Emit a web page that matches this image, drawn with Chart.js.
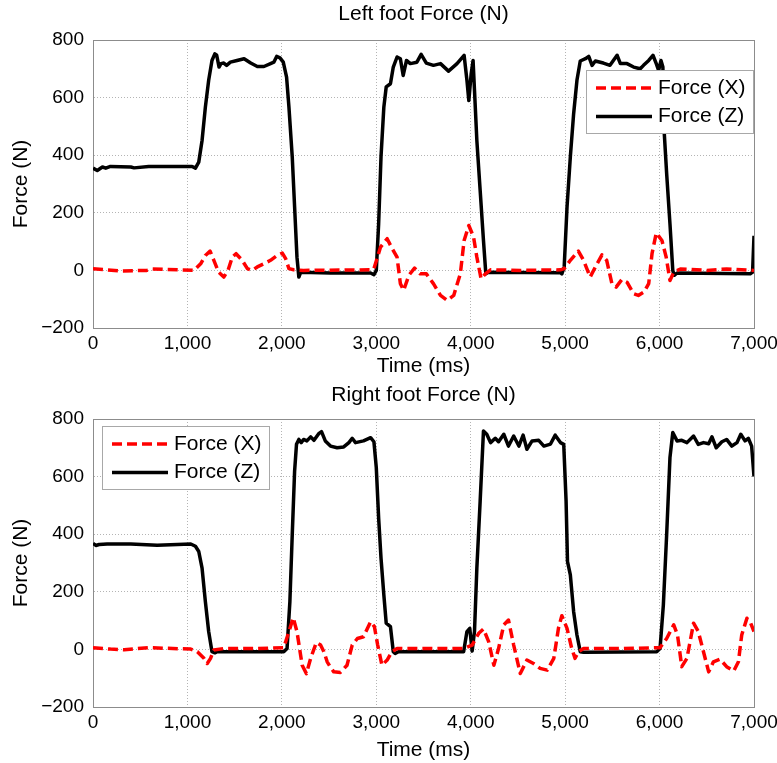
<!DOCTYPE html>
<html>
<head>
<meta charset="utf-8">
<script src="https://cdn.jsdelivr.net/npm/chart.js@4.4.1/dist/chart.umd.min.js"></script>
<style>
  html, body { margin: 0; padding: 0; background: #fff; }
  canvas { display: block; }
</style>
</head>
<body>
<canvas id="leftChart" width="777" height="380"></canvas>
<canvas id="rightChart" width="777" height="383"></canvas>
<script>
// axis ranges
const timeMin = 0, timeMax = 7000, timeStep = 1000;
const forceMin = -200, forceMax = 800, forceStep = 200;

// left foot, X force
const leftXTime = [0, 150, 290, 570, 630, 1070, 1140, 1190, 1240, 1280, 1330, 1385, 1430, 1475, 1515, 1580, 1635, 1685, 1740, 1810,
  1880, 1950, 2005, 2040, 2075, 2125, 2230, 2940, 2975, 3045, 3115, 3160, 3220, 3255, 3290, 3345, 3405, 3465, 3530, 3605,
  3680, 3750, 3820, 3890, 3930, 3980, 4030, 4065, 4110, 4155, 4210, 4530, 4950, 4990, 5055, 5140, 5195, 5265, 5320, 5390,
  5440, 5495, 5540, 5600, 5655, 5725, 5775, 5835, 5885, 5920, 5965, 6025, 6070, 6110, 6150, 6220, 6500, 6710, 7000];
const leftXForce = [6, 2, -2, 0, 5, 0, 23, 52, 67, 35, -6, -23, 0, 46, 58, 35, 6, 0, 12, 23,
  35, 52, 60, 41, 6, 2, 0, 2, 6, 81, 110, 81, 46, -46, -69, -17, 8, -12, -12, -46,
  -87, -104, -87, -12, 104, 156, 116, 46, -29, -12, 2, 0, 2, 6, 35, 67, 35, -23, 12, 54,
  35, -46, -58, -32, -41, -81, -87, -75, -46, 58, 130, 104, 46, -35, -6, 5, 0, 5, 0];

// left foot, Z force
const leftZTime = [0, 45, 100, 135, 185, 400, 435, 590, 1050, 1085, 1120, 1155, 1190, 1225, 1260, 1290, 1310, 1335, 1355, 1385,
  1415, 1455, 1525, 1600, 1670, 1740, 1810, 1880, 1915, 1945, 1980, 2015, 2050, 2075, 2110, 2135, 2160, 2180, 2200, 2515,
  2940, 2975, 3000, 3025, 3050, 3080, 3105, 3150, 3180, 3220, 3255, 3285, 3320, 3360, 3430, 3475, 3530, 3605, 3680, 3765,
  3855, 3930, 3960, 3980, 4005, 4025, 4040, 4065, 4100, 4135, 4160, 4190, 4950, 4965, 4990, 5020, 5055, 5090, 5125, 5160,
  5215, 5250, 5285, 5320, 5405, 5475, 5550, 5585, 5655, 5725, 5795, 5830, 5885, 5930, 5965, 5990, 6015, 6035, 6050, 6075,
  6110, 6140, 6155, 6185, 6960, 6985, 7000];
const leftZForce = [355, 347, 359, 355, 361, 359, 356, 361, 361, 355, 376, 451, 567, 660, 729, 752, 747, 706, 718, 720,
  712, 723, 729, 735, 720, 708, 708, 718, 723, 743, 738, 723, 671, 567, 394, 220, 46, -23, -6, -9,
  -9, -15, 0, 162, 394, 567, 637, 648, 706, 741, 735, 677, 729, 718, 723, 750, 720, 712, 718, 692,
  718, 747, 660, 590, 683, 729, 625, 451, 278, 104, -12, -6, -8, -12, 12, 220, 394, 544, 660, 727,
  735, 743, 712, 727, 720, 712, 747, 718, 718, 706, 700, 712, 729, 747, 718, 694, 729, 706, 475, 336,
  162, 0, -17, -9, -12, -6, 120];

// right foot, X force
const rightXTime = [0, 185, 330, 590, 1035, 1105, 1175, 1210, 1245, 1280, 1385, 1740, 2020, 2075, 2120, 2160, 2215, 2260, 2305, 2365,
  2410, 2445, 2480, 2515, 2550, 2620, 2690, 2745, 2800, 2865, 2940, 2980, 3015, 3060, 3115, 3165, 3220, 3570, 3925, 4015,
  4085, 4135, 4190, 4245, 4295, 4350, 4400, 4455, 4525, 4595, 4665, 4735, 4810, 4880, 4930, 4965, 5020, 5070, 5105, 5140,
  5195, 5620, 6005, 6075, 6150, 6190, 6235, 6290, 6360, 6410, 6465, 6520, 6570, 6640, 6710, 6785, 6835, 6870, 6925, 6965, 7000];
const rightXForce = [6, 1, -1, 6, 1, -8, -31, -49, -31, -2, 3, 3, 6, 62, 110, 62, -55, -84, -31, 24,
  15, -8, -43, -62, -78, -80, -55, 15, 38, 44, 96, 79, 15, -55, -37, -8, 3, 3, 3, 15,
  56, 71, 27, -55, 3, 85, 102, 15, -84, -37, -49, -66, -72, -31, 75, 117, 73, 3, -31, -8,
  3, 3, 6, 38, 85, 50, -60, -31, 91, 62, -8, -78, -43, -34, -60, -75, -43, 50, 108, 91, 62];

// right foot, Z force
const rightZTime = [0, 30, 65, 150, 400, 680, 1035, 1085, 1120, 1155, 1190, 1225, 1260, 1290, 1315, 2020, 2055, 2085, 2110, 2135,
  2155, 2180, 2205, 2230, 2265, 2305, 2340, 2390, 2420, 2460, 2515, 2585, 2655, 2710, 2745, 2780, 2865, 2940, 2975, 3000,
  3025, 3050, 3080, 3105, 3150, 3180, 3200, 3235, 3925, 3960, 3990, 4015, 4040, 4065, 4100, 4135, 4170, 4210, 4260, 4295,
  4350, 4400, 4455, 4510, 4555, 4595, 4650, 4720, 4775, 4845, 4895, 4950, 4985, 5010, 5025, 5055, 5090, 5125, 5160, 5195,
  5970, 6005, 6040, 6075, 6110, 6140, 6185, 6235, 6290, 6360, 6410, 6465, 6520, 6555, 6600, 6660, 6710, 6765, 6820, 6860,
  6905, 6940, 6975, 7000];
const rightZForce = [368, 361, 364, 366, 366, 362, 366, 358, 340, 282, 166, 62, -8, -12, -8, -8, 3, 166, 398, 619,
  712, 729, 718, 729, 724, 738, 726, 749, 756, 724, 706, 700, 703, 718, 733, 718, 724, 735, 721, 631,
  456, 317, 189, 91, 79, -8, -14, -8, -8, 62, 73, -6, 62, 282, 515, 758, 747, 718, 733, 721,
  747, 706, 741, 706, 744, 695, 724, 726, 706, 713, 744, 718, 712, 515, 305, 259, 131, 50, -8, -10,
  -8, 3, 154, 398, 666, 753, 724, 726, 718, 741, 712, 718, 714, 738, 700, 721, 729, 706, 718, 747,
  724, 733, 706, 600];

const FAMILY = "'Liberation Sans', Arial, sans-serif";
const tickFont = { family: FAMILY, size: 19 };
const labelFont = { family: FAMILY, size: 21 };
const frameColor = '#8c8c8c';
const gridColor = '#b4b4b4';

function toPoints(t, f) {
  return t.map((x, i) => ({ x, y: f[i] }));
}

// thousands separator and a proper minus sign
function fmtTick(v) {
  return v.toLocaleString('en-US').replace('-', '\u2212');
}

// boxed legend sitting inside the plot area
const boxLegend = {
  id: 'boxLegend',
  afterDraw(chart, args, opts) {
    const { ctx, chartArea } = chart;
    const sets = chart.data.datasets;
    ctx.save();
    ctx.font = `${labelFont.size}px ${FAMILY}`;
    const textW = Math.max(...sets.map(d => ctx.measureText(d.label).width));
    const w = Math.round(72 + textW + 7), h = 63;
    const x = Math.round(opts.side === 'right' ? chartArea.right - opts.dx - w : chartArea.left + opts.dx);
    const y = Math.round(chartArea.top + opts.dy);
    ctx.fillStyle = '#fff';
    ctx.fillRect(x, y, w, h);
    ctx.strokeStyle = '#a8a8a8';
    ctx.lineWidth = 1;
    ctx.strokeRect(x + 0.5, y + 0.5, w, h);
    sets.forEach((d, i) => {
      const ly = y + 18 + i * 28.5;
      ctx.strokeStyle = d.borderColor;
      ctx.lineWidth = d.borderWidth;
      ctx.setLineDash(d.borderDash || []);
      ctx.beginPath();
      ctx.moveTo(x + 10, ly);
      ctx.lineTo(x + 66, ly);
      ctx.stroke();
      ctx.setLineDash([]);
      ctx.fillStyle = '#000';
      ctx.textBaseline = 'middle';
      ctx.fillText(d.label, x + 72, ly);
    });
    ctx.restore();
  }
};

function makeChart(id, title, xt, xf, zt, zf, legendOpts, topH, bottomH, titlePad, xTitlePad) {
  return new Chart(document.getElementById(id), {
    type: 'line',
    data: {
      datasets: [
        { label: 'Force (X)', data: toPoints(xt, xf), borderColor: '#ff0000', borderWidth: 3.5,
          borderDash: [10, 5], pointRadius: 0, tension: 0, borderJoinStyle: 'round' },
        { label: 'Force (Z)', data: toPoints(zt, zf), borderColor: '#000000', borderWidth: 3.5,
          pointRadius: 0, tension: 0, borderJoinStyle: 'round' }
      ]
    },
    options: {
      responsive: false,
      animation: false,
      layout: { padding: 0 },
      plugins: { legend: { display: false }, tooltip: { enabled: false }, boxLegend: legendOpts },
      scales: {
        x: {
          type: 'linear', position: 'bottom', min: timeMin, max: timeMax,
          ticks: { stepSize: timeStep, color: '#000', font: tickFont, padding: 4, maxRotation: 0, callback: fmtTick },
          grid: { color: gridColor, drawTicks: false },
          border: { color: frameColor, dash: [1, 2] },
          title: { display: true, text: 'Time (ms)', color: '#000', font: labelFont, padding: { top: 0, bottom: xTitlePad } },
          afterFit(s) { s.height = bottomH; s.paddingLeft = 0; s.paddingRight = 0; }
        },
        y: {
          type: 'linear', position: 'left', min: forceMin, max: forceMax,
          ticks: { stepSize: forceStep, color: '#000', font: tickFont, padding: 9, callback: fmtTick },
          grid: { color: gridColor, drawTicks: false },
          border: { color: frameColor, dash: [1, 2] },
          title: { display: true, text: 'Force (N)', color: '#000', font: labelFont, padding: { top: 9, bottom: 0 } },
          afterFit(s) { s.width = 93; s.paddingTop = 0; s.paddingBottom = 0; }
        },
        // top edge of the frame, carries the panel title
        xTop: {
          type: 'linear', position: 'top', min: timeMin, max: timeMax,
          ticks: { display: false }, grid: { display: false },
          border: { color: frameColor },
          title: { display: true, text: title, color: '#000', font: labelFont, padding: { top: titlePad, bottom: 0 } },
          afterFit(s) { s.height = topH; }
        },
        // right edge of the frame
        yRight: {
          type: 'linear', position: 'right', min: forceMin, max: forceMax,
          ticks: { display: false }, grid: { display: false },
          border: { color: frameColor },
          afterFit(s) { s.width = 23; }
        }
      }
    },
    plugins: [boxLegend]
  });
}

makeChart('leftChart', 'Left foot Force (N)', leftXTime, leftXForce, leftZTime, leftZForce,
  { side: 'right', dx: 1, dy: 30 }, 40, 52, 1.4, 1);
makeChart('rightChart', 'Right foot Force (N)', rightXTime, rightXForce, rightZTime, rightZForce,
  { side: 'left', dx: 8.5, dy: 7 }, 39, 56, 2.4, 0.4);
</script>
</body>
</html>
